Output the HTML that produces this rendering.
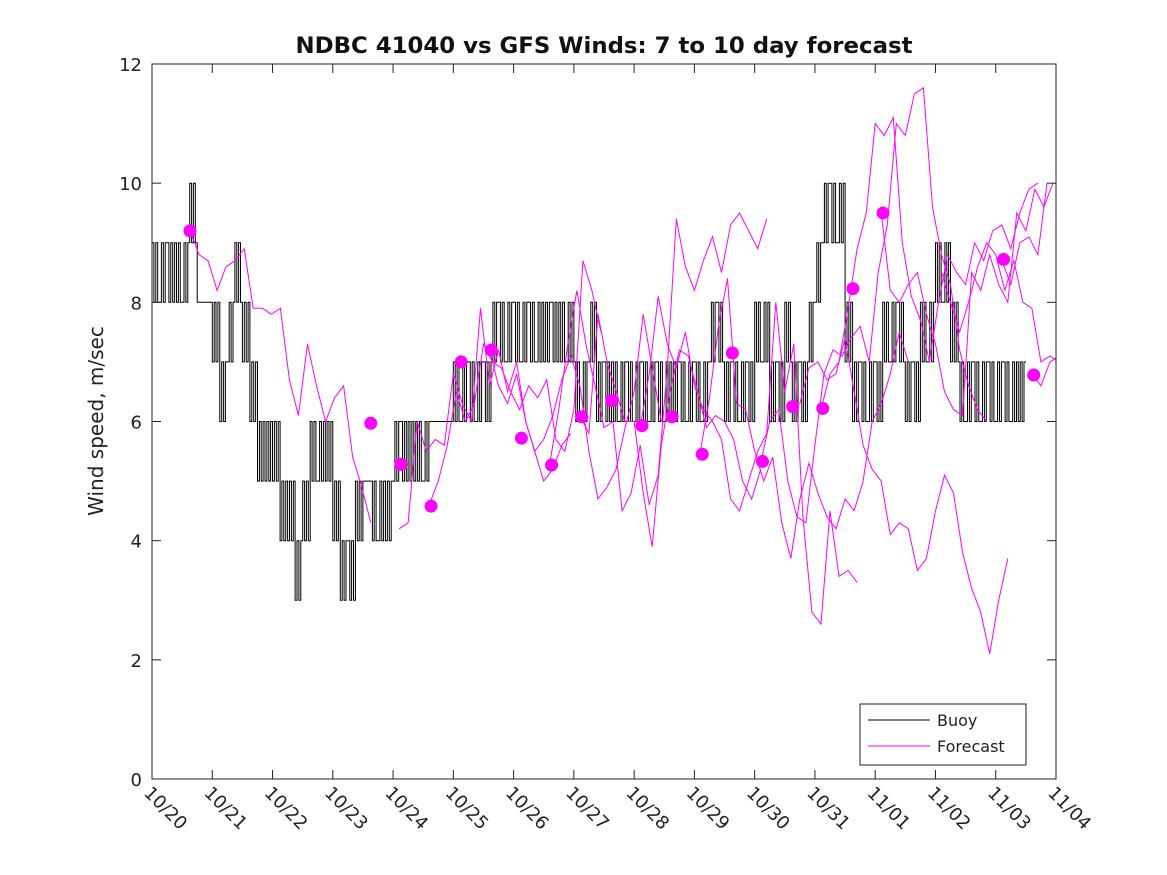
<!DOCTYPE html>
<html><head><meta charset="utf-8"><style>
body{margin:0;background:#fff;}
svg{display:block;font-family:"DejaVu Sans","Liberation Sans",sans-serif;}
</style></head><body>
<svg id="chart" width="1167" height="875" viewBox="0 0 1167 875">
<defs><clipPath id="pc"><rect x="152" y="64" width="904" height="715"/></clipPath></defs>
<rect width="1167" height="875" fill="#fff"/>
<text x="604" y="53" text-anchor="middle" font-size="22" font-weight="bold" fill="#111" textLength="617" lengthAdjust="spacingAndGlyphs">NDBC 41040 vs GFS Winds: 7 to 10 day forecast</text>
<text transform="translate(103,421) rotate(-90)" text-anchor="middle" font-size="20" fill="#222">Wind speed, m/sec</text>
<g id="plot" clip-path="url(#pc)"></g>
<g id="axes"></g>
<g>
<rect x="860" y="704" width="166" height="61" fill="#fff" stroke="#222" stroke-width="1"/>
<line x1="868" y1="720" x2="930" y2="720" stroke="#000" stroke-width="1"/>
<text x="937" y="726" font-size="16" fill="#222">Buoy</text>
<line x1="868" y1="746" x2="930" y2="746" stroke="#f0f" stroke-width="1"/>
<text x="937" y="752" font-size="16" fill="#222">Forecast</text>
</g>
</svg>
<script>
const xLabels=["10/20","10/21","10/22","10/23","10/24","10/25","10/26","10/27","10/28","10/29","10/30","10/31","11/01","11/02","11/03","11/04"];
const yTicks=[0,2,4,6,8,10,12];
const buoyStep=0.125;
const buoyValues=[9,8,9,9,8,10,8,8, 7,6,7,9,7,6,5,5, 5,4,4,3,5,6,5,5, 4,3,4,5,5,5,4,4, 5,6,6,6,5,6,6,6, 7,6,7,6,7,7,8,7, 8,7,8,7,7,8,8,7, 7,6,7,6,7,7,6,7, 6,7,6,7,6,6,7,6, 7,6,7,8,6,7,6,7, 8,7,6,7,8,6,7,7, 8,9,10,9,7,6,7,6, 7,8,7,8,6,7,8,7, 9,8,7,7,6,7,6,7, 6,7,6,6];
const buoyAlt=[8,9,8,8,9,9,8,8, 8,7,8,8,8,7,6,6, 6,5,5,4,4,5,6,6, 5,4,3,4,5,4,5,5, 6,5,5,5,6,6,6,6, 6,7,6,7,6,8,7,8, 7,8,7,8,8,7,7,8, 6,7,8,7,6,6,7,6, 7,6,7,6,7,7,6,7, 6,7,8,7,7,6,7,6, 7,8,7,6,7,7,6,8, 9,10,9,10,8,7,6,7, 6,7,8,7,7,6,7,8, 8,9,8,6,7,6,7,6, 7,6,7,7];
const dotDays=[0.63,3.63,4.13,4.63,5.13,5.63,6.13,6.63,7.13,7.63,8.13,8.63,9.13,9.63,10.13,10.63,11.13,11.63,12.13,14.13,14.63];
const dotValues=[9.2,5.97,5.28,4.58,7.0,7.2,5.72,5.27,6.08,6.35,5.93,6.08,5.45,7.15,5.33,6.25,6.22,8.23,9.5,8.72,6.78];
const fcStep=0.15;
const fcStarts=[0.63,4.1,4.6,5.6,6.6,7.1,8.1,9.1,10.1,10.6,11.1,12.1,13.1,14.1,14.6];
const fcValues=[
[9.2,8.8,8.7,8.2,8.6,8.7,8.9,7.9,7.9,7.8,7.9,6.7,6.1,7.3,6.6,6.0,6.4,6.6,5.4,4.9,4.3],
[4.2,4.3,6.0,5.5,5.7,5.6,6.8,6.3,6.0,7.9,6.6,7.2,6.5,7.0,6.0,5.5,5.0,5.2,5.6,5.8],
[4.6,5.0,5.6,6.5,6.0,6.3,7.3,7.0,6.9,6.5,6.2,6.6,6.4,6.7,5.7,5.5,6.2,8.7,8.2,7.5],
[7.2,6.6,6.3,6.8,6.0,5.5,5.7,6.1,6.7,7.1,6.6,5.5,4.7,4.9,5.2,5.9,6.5,7.8,6.9,6.0],
[5.3,6.2,7.3,8.2,7.3,6.6,5.9,6.0,4.5,4.8,5.6,4.6,5.1,6.9,9.4,8.6,8.2,8.7,9.1,8.5,9.3,9.5,9.2,8.9,9.4],
[6.1,5.8,7.8,7.0,6.5,6.0,6.0,4.8,3.9,5.6,6.5,7.2,7.1,6.5,5.9,6.1,6.0,5.7,5.0,4.7,5.2],
[5.9,6.8,8.1,7.3,6.9,7.5,6.6,6.2,6.0,5.7,4.7,4.5,5.0,5.5,5.8,8.0,6.5,7.3,4.4,2.8,2.6,4.5,3.4,3.5,3.3],
[5.5,6.4,7.6,8.4,6.3,6.2,5.5,5.0,5.4,4.3,3.7,4.7,5.3,4.8,4.4,4.2,4.7,4.5,5.0,6.0,6.3,6.8,7.5,7.0],
[5.3,6.0,6.2,5.0,4.4,4.3,5.6,6.8,7.2,7.1,7.4,7.6,7.0,8.5,9.3,11.0,10.8,11.5,11.6,9.6,8.8,8.3,7.2,6.6,6.2,6.0],
[6.2,6.3,6.9,7.0,6.7,6.8,7.4,6.5,5.6,5.2,5.0,4.1,4.3,4.2,3.5,3.7,4.5,5.1,4.8,3.8,3.2,2.8,2.1,3.0,3.7],
[6.2,6.8,7.0,7.9,8.9,9.5,11.0,10.8,11.1,9.0,8.1,7.7,7.0,8.0,8.8,8.5,8.3,9.0,8.7,9.2,9.3,8.9,9.5,9.9,10.0],
[9.5,8.2,8.0,8.3,8.5,7.8,7.3,6.5,6.2,6.1,8.5,8.2,8.8,8.3,8.0,9.5,9.2,9.9,9.6,10.0],
[8.5,8.0,7.5,8.0,8.6,9.0,8.8,8.2,8.7,8.0,7.9,7.0,7.1,7.0,7.4,7.7],
[8.7,8.3,9.0,9.1,8.8,10.0],
[6.8,6.6,7.0,7.1,7.4,7.7]
];
const X0=152,X1=1056,Y0=779,Y1=64,DAYS=15,YMAX=12;
const xs=d=>X0+(X1-X0)*d/DAYS;
const ys=v=>Y0-(Y0-Y1)*v/YMAX;
const NS="http://www.w3.org/2000/svg";
const plot=document.getElementById('plot'),axes=document.getElementById('axes');
function mk(tag,attrs,parent){const e=document.createElementNS(NS,tag);for(const k in attrs)e.setAttribute(k,attrs[k]);parent.appendChild(e);return e;}
let d="";const SUB=4;
buoyValues.forEach((v,i)=>{
  for(let s=0;s<SUB;s++){
    const val=(s%2===0)?v:buoyAlt[i];
    const xa=xs(i*buoyStep+s*buoyStep/SUB),xb=xs(i*buoyStep+(s+1)*buoyStep/SUB);
    d+=((i||s)?"L":"M")+xa.toFixed(1)+","+ys(val).toFixed(1)+"L"+xb.toFixed(1)+","+ys(val).toFixed(1);
  }
});
const bl=mk('path',{d:d,fill:'none',stroke:'#000','stroke-width':1},plot);


fcValues.forEach((arr,j)=>{
  const p=arr.map((v,i)=>(i?"L":"M")+xs(fcStarts[j]+i*fcStep).toFixed(1)+","+ys(v).toFixed(1)).join("");
  const pl=mk('path',{d:p,fill:'none',stroke:'#f0f','stroke-width':1},plot);
  
  
});
dotDays.forEach((dd,i)=>{
  const c=mk('circle',{cx:xs(dd),cy:ys(dotValues[i]),r:6.5,fill:'#f0f'},plot);
  
  
});
const box=mk('rect',{x:X0,y:Y1,width:X1-X0,height:Y0-Y1,fill:'none',stroke:'#222','stroke-width':1},axes);


yTicks.forEach(v=>{
  const y=ys(v);
  mk('line',{x1:X0,y1:y,x2:X0+9,y2:y,stroke:'#222'},axes);
  mk('line',{x1:X1,y1:y,x2:X1-9,y2:y,stroke:'#222'},axes);
  const t=mk('text',{x:X0-10,y:y+7,'text-anchor':'end','font-size':18,fill:'#222'},axes);
  t.textContent=v;
  
  
});
xLabels.forEach((lab,i)=>{
  const x=xs(i);
  mk('line',{x1:x,y1:Y0,x2:x,y2:Y0-9,stroke:'#222'},axes);
  mk('line',{x1:x,y1:Y1,x2:x,y2:Y1+9,stroke:'#222'},axes);
  const t=mk('text',{transform:`translate(${x-9},${Y0+15}) rotate(45)`,'font-size':18,fill:'#222'},axes);
  t.textContent=lab;
  
  
});
</script>
</body></html>
